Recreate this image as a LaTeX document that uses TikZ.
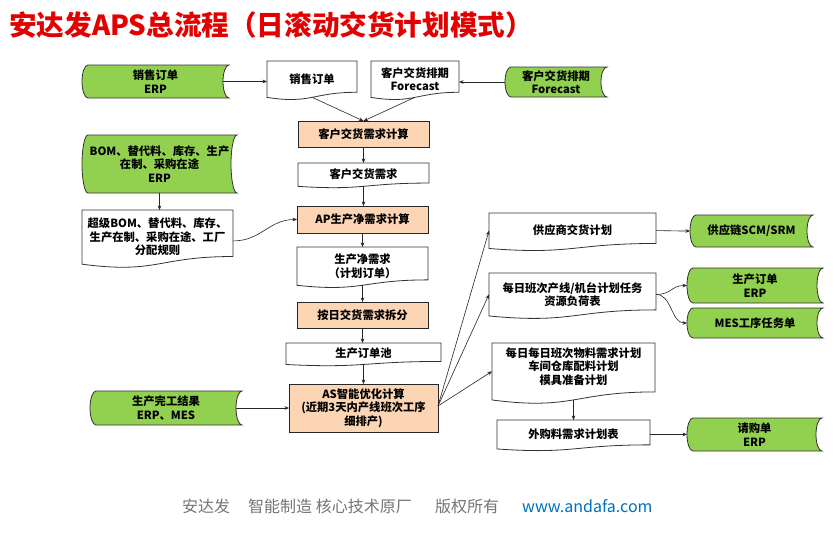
\documentclass[tikz,border=0pt]{standalone}
\usepackage{fontspec}
\setmainfont{Noto Sans CJK SC}
\usetikzlibrary{arrows.meta,calc}
\definecolor{procfill}{RGB}{252,213,180}
\definecolor{storefill}{RGB}{146,208,80}
\definecolor{titlered}{RGB}{228,0,0}
\definecolor{footgray}{RGB}{118,118,118}
\definecolor{footblue}{RGB}{0,112,192}
\tikzset{
  lbl/.style={font=\bfseries\fontsize{11.3}{13.5}\selectfont, align=center, inner sep=0pt},
  shp/.style={inner sep=0pt, outer sep=0pt},
  proc/.style={draw=black!85, fill=procfill, line width=0.8pt},
  docline/.style={draw=black!80, fill=white, line width=0.8pt},
  storeline/.style={draw=black!80, fill=storefill, line width=0.8pt},
  arr/.style={draw=black!85, line width=0.6pt, -{Stealth[length=4.5pt,width=3.6pt]}},
  foot/.style={anchor=west, inner sep=0pt, font=\fontsize{16}{18}\selectfont, text=footgray},
}
% process box: name x0 y0 x1 y1 text
\newcommand\procbox[6]{%
  \pgfmathsetmacro\pw{#4-#2}\pgfmathsetmacro\ph{#5-#3}%
  \node[proc, shp, lbl, minimum width=\pw pt, minimum height=\ph pt] (#1) at ({(#2+#4)/2},{(#3+#5)/2}) {#6};%
}
% document box: [textshift] name x0 y0 x1 y1 text
\newcommand\docbox[7][0]{%
  \pgfmathsetmacro\xm{(#3+#5)/2}%
  \pgfmathsetmacro\hh{#6-#4}%
  \pgfmathsetmacro\yr{#4+0.802*\hh}%
  \pgfmathsetmacro\yc{#4+1.107*\hh}%
  \pgfmathsetmacro\yl{#4+0.934*\hh}%
  \pgfmathsetmacro\pw{#5-#3}%
  \pgfmathsetmacro\ph{0.93*\hh}%
  \pgfmathsetmacro\yn{#4+0.465*\hh}%
  \path[docline] (#3,#4) -- (#5,#4) -- (#5,\yr) .. controls (\xm,\yr) and (\xm,\yc) .. (#3,\yl) -- cycle;
  \node[shp, minimum width=\pw pt, minimum height=\ph pt] (#2) at (\xm,\yn) {};
  \node[lbl] (#2-t) at ([yshift=#1pt]#2.center) {#7};%
}
% stored data box: name x0 y0 x1 y1 text
\newcommand\storebox[6]{%
  \pgfmathsetmacro\ry{(#5-#3)/2}%
  \pgfmathsetmacro\xa{#2+6}%
  \pgfmathsetmacro\pw{#4-#2}\pgfmathsetmacro\ph{#5-#3}%
  \path[storeline] (\xa,#3) -- (#4,#3) arc[start angle=90,end angle=270,x radius=6pt,y radius=\ry pt]
     -- (\xa,#5) arc[start angle=270,end angle=90,x radius=6pt,y radius=\ry pt] -- cycle;
  \node[shp, lbl, minimum width=\pw pt, minimum height=\ph pt] (#1) at ({(#2+#4)/2},{(#3+#5)/2}) {#6};%
}
\begin{document}
\begin{tikzpicture}[x=1pt,y=-1pt]
\fill[white] (0,0) rectangle (836,538);
\useasboundingbox (0,0) rectangle (836,538);

\node[anchor=west, inner sep=0pt, text=titlered, font=\bfseries\fontsize{27.6}{32}\selectfont] (title) at (9,25) {安达发APS总流程（日滚动交货计划模式）};

% green stored data
\storebox{sog}{82}{65}{229}{98}{销售订单\\ERP}
\storebox{fcg}{505}{67}{607}{97}{客户交货排期\\Forecast}
\storebox{bomg}{82}{135}{237}{193}{BOM、替代料、库存、生产\\在制、采购在途\\ERP}
\storebox{wcg}{90}{391}{242}{425}{生产完工结果\\ERP、MES}
\storebox{scm}{690}{215}{813}{247}{供应链SCM/SRM}
\storebox{pog}{687}{268}{823}{303}{生产订单\\ERP}
\storebox{mesg}{687}{308}{823}{338}{MES工序任务单}
\storebox{qgd}{687}{418}{822}{451}{请购单\\ERP}

% documents
\docbox{sod}{267}{61}{357}{100}{销售订单}
\docbox{fcd}{371}{61}{459}{100}{客户交货排期\\Forecast}
\docbox{cxq}{298}{163}{429}{188}{客户交货需求}
\docbox{bomd}{82}{210}{233}{268}{超级BOM、替代料、库存、\\生产在制、采购在途、工厂\\分配规则}
\docbox{jxq}{297}{247}{428}{288}{生产净需求\\（计划订单）}
\docbox{pool}{286}{343}{441}{366}{生产订单池}
\docbox{gys}{489}{213}{656}{251}{供应商交货计划}
\docbox{mrz}{489}{273}{656}{319}{每日班次产线/机台计划任务\\资源负荷表}
\docbox[5]{wl}{492}{343}{655}{404}{每日每日班次物料需求计划\\车间仓库配料计划\\模具准备计划}
\docbox{wgl}{497}{420}{650}{451}{外购料需求计划表}

% processes
\procbox{c1}{298}{121}{429}{147}{客户交货需求计算}
\procbox{ap}{297}{206}{428}{233}{AP生产净需求计算}
\procbox{split}{297}{302}{428}{328}{按日交货需求拆分}
\procbox{as}{289}{384}{438}{432}{AS智能优化计算\\(近期3天内产线班次工序\\细排产)}

% connectors
\draw[arr] ([xshift=-6pt]sog.east) -- (sog.east -| sod.west);
\draw[arr] (fcg.west) -- (fcg.west -| fcd.east);
\draw[arr] (sod.south) -- (c1.north);
\draw[arr] (fcd.south) -- (c1.north);
\draw[arr] (c1.south) -- (c1.south |- cxq.north);
\draw[arr] (cxq.south) -- (cxq.south |- ap.north);
\draw[arr] (ap.south) -- (ap.south |- jxq.north);
\draw[arr] (jxq.south) -- (jxq.south |- split.north);
\draw[arr] (split.south) -- (split.south |- pool.north);
\draw[arr] (pool.south) -- (pool.south |- as.north);
\draw[arr] (bomg.south) -- (bomg.south |- bomd.north);
\draw[arr] ([yshift=-4pt]bomd.east) .. controls +(28,0) and +(-28,0) .. (ap.west);
\draw[arr] ([xshift=-6pt]wcg.east) -- (wcg.east -| as.west);
\draw[arr] ([yshift=2pt]as.east) -- (gys.west);
\draw[arr] ([yshift=2pt]as.east) -- (mrz.west);
\draw[arr] ([yshift=2pt]as.east) -- (wl.west);
\draw[arr] (gys.east) .. controls +(18,0) and +(-18,0) .. (scm.west);
\draw[arr] (mrz.east) .. controls +(16,0) and +(-16,0) .. (pog.west);
\draw[arr] (mrz.east) .. controls +(16,0) and +(-16,0) .. (mesg.west);
\draw[arr] (wl.south) -- (wl.south |- wgl.north);
\draw[arr] (wgl.east) -- (wgl.east -| qgd.west);

% footer
\node[foot] (f1) at (182,506) {安达发};
\node[foot] (f2) at (248,506) {智能制造 核心技术原厂};
\node[foot] (f3) at (435,506) {版权所有};
\node[foot, text=footblue] (f4) at (522,506) {www.andafa.com};
\end{tikzpicture}
\end{document}
